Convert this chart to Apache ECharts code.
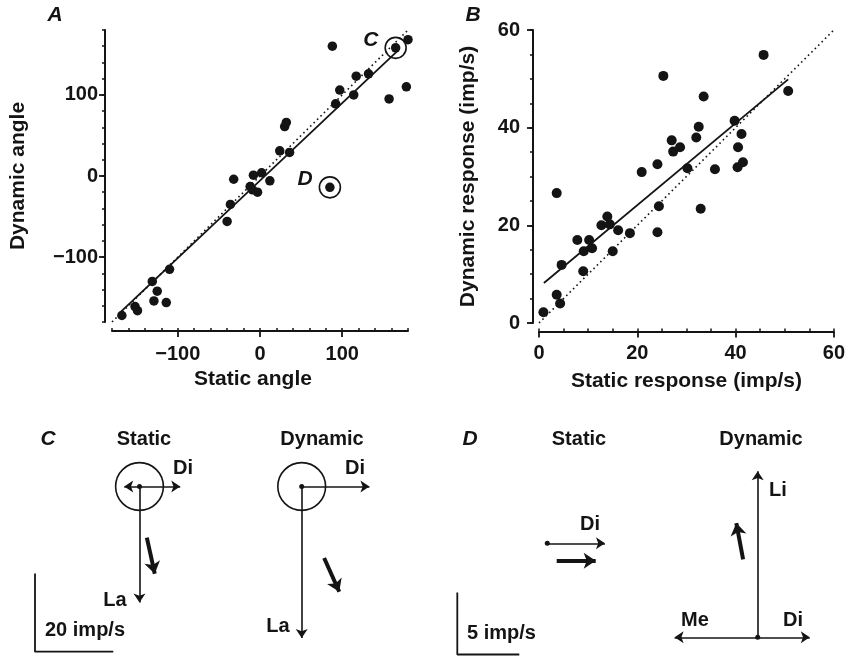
<!DOCTYPE html>
<html><head><meta charset="utf-8">
<script src="https://cdn.jsdelivr.net/npm/echarts@6/dist/echarts.min.js"></script>
<style>html,body{margin:0;padding:0;background:#fff}#c{width:848px;height:656px}</style>
</head><body><div id="c"></div>
<script>
// ---------- Panel A: preferred direction angles ----------
const staticAngle  = [-168,-152,-149,-131,-125,-129,-114,-110,-40,-36,-32,-12,-8,-9,-3,2,12,24,36,30,32,92,97,114,117,132,157,178,88,165,180,85];
const dynamicAngle = [-172,-161,-166,-130,-142,-154,-156,-115,-56,-35,-4,-13,1,-17,-20,4,-6,31,29,61,66,89,106,100,123,126,95,110,160,158,168,-14];
const fitAX = [-171, 167];
const fitAY = [-169, 154];
const identityA = [-180, 180];
const highlightedA = [[165,158],[85,-14]];
const highlightedALabels = ['C','D'];
const ticksA = [-100, 0, 100];

// ---------- Panel B: response magnitudes ----------
const staticResp  = [0.9,3.6,4.3,3.6,4.6,7.8,9.1,9.0,10.2,10.8,12.7,13.9,14.4,15.0,16.1,18.5,20.9,24.1,24.1,24.4,25.3,27.0,27.3,28.7,30.2,32.0,32.5,32.9,33.5,35.8,39.8,40.5,40.4,41.2,41.5,45.7,50.7];
const dynamicResp = [2.2,5.8,4.0,26.6,11.9,17.0,14.7,10.6,17.0,15.3,20.0,21.8,20.2,14.7,19.0,18.4,30.9,32.5,18.6,23.9,50.6,37.4,35.1,36.0,31.7,38.0,40.2,23.4,46.4,31.5,41.4,36.0,31.9,38.7,32.9,54.9,47.5];
const fitBX = [1, 50.7];
const fitBY = [8.2, 49.9];
const identityB = [0, 60];
const ticksB = [0, 20, 40, 60];

// ---------- Panels C, D: response vectors (imp/s) [label, dx, dy] ----------
const cStatic  = [['Di', 10.4, 0], ['', -3.9, 0], ['La', 0, -29.6]];
const cDynamic = [['Di', 17.3, 0], ['La', 0, -38.7]];
const dStatic  = [['Di', 4.65, 0]];
const dDynamic = [['Li', 0, 13.4], ['Di', 4.2, 0], ['Me', -6.7, 0]];
const cCircleRadius = 6.1;
const scaleBarC = 20;
const scaleBarD = 5;

// ---------- layout ----------
const FONT = 'Liberation Sans, Arial, sans-serif';
const INK = '#141414';
const sC = 78.3 / 20;   // px per imp/s in panel C
const sD = 62 / 5;      // px per imp/s in panel D
const gC = {left: 0, top: 440, width: 420, height: 216};
const gD = {left: 420, top: 440, width: 428, height: 216};
const toC = p => [(p[0] - gC.left) / sC, (gC.top + gC.height - p[1]) / sC];
const toD = p => [(p[0] - gD.left) / sD, (gD.top + gD.height - p[1]) / sD];

const minus = v => v < 0 ? '\u2212' + Math.abs(v) : String(v);
const txt = {fontFamily: FONT, fontSize: 20, fontWeight: 'bold', color: INK};

function axisPair(dim, grid, min, max, minorStep, majors, offset, name, nameGap, margin, namePad) {
  const isX = dim === 'x';
  const main = {
    type: 'value', gridIndex: grid, min, max, interval: minorStep,
    position: isX ? 'bottom' : 'left', offset,
    name, nameLocation: 'middle', nameGap,
    nameTextStyle: Object.assign({}, txt, {fontSize: 21, padding: namePad || 0}),
    axisLine: {show: true, onZero: false, lineStyle: {color: INK, width: 2}},
    axisTick: {show: true, inside: isX, length: 3, lineStyle: {color: INK, width: 1.5}},
    axisLabel: {show: false},
    splitLine: {show: false}
  };
  const major = {
    type: 'value', gridIndex: grid, min, max, interval: minorStep,
    position: isX ? 'bottom' : 'left', offset,
    axisLine: {show: false, onZero: false},
    axisTick: {show: true, inside: false, length: 6, customValues: majors, lineStyle: {color: INK, width: 1.8}},
    axisLabel: Object.assign({show: true, customValues: majors, margin, formatter: minus}, txt),
    splitLine: {show: false}
  };
  return [main, major];
}
function hiddenAxis(grid, max) {
  return {type: 'value', gridIndex: grid, min: 0, max, show: false, splitLine: {show: false}};
}

const xAxes = [
  ...axisPair('x', 0, -180, 180, 20, ticksA, 9, 'Static angle', 38, 13, [0, 14, 0, 0]),
  ...axisPair('x', 1, 0, 60, 5, ticksB, 8.5, 'Static response (imp/s)', 39, 12),
  hiddenAxis(2, gC.width / sC),
  hiddenAxis(3, gD.width / sD)
];
const yAxes = [
  ...axisPair('y', 0, -180, 180, 20, ticksA, 7, 'Dynamic angle', 76, 7),
  ...axisPair('y', 1, 0, 60, 5, ticksB, 6, 'Dynamic response (imp/s)', 54, 13),
  hiddenAxis(2, gC.height / sC),
  hiddenAxis(3, gD.height / sD)
];

const zip = (a, b) => a.map((v, i) => [v, b[i]]);

function vecLines(comps, originPx, toData) {
  const o = toData(originPx);
  return comps.map(c => ({coords: [o, [o[0] + c[1], o[1] + c[2]]]}));
}
function boldArrow(comps, centerPx, toData, s, L) {
  const rx = comps.reduce((a, c) => a + c[1], 0);
  const ry = comps.reduce((a, c) => a + c[2], 0);
  const n = Math.hypot(rx, ry), h = L / 2 / s;
  const c = toData(centerPx);
  return {coords: [[c[0] - rx / n * h, c[1] - ry / n * h], [c[0] + rx / n * h, c[1] + ry / n * h]]};
}
function scaleBar(cornerPx, toData, len) {
  const c = toData(cornerPx);
  return [[c[0], c[1] + len], c, [c[0] + len, c[1]]];
}

const originCS = [139.5, 486.5], originCD = [301.7, 486.5];
const originDS = [547.3, 543.3], originDD = [757.7, 637.3];

const thinArrow = {
  type: 'lines', coordinateSystem: 'cartesian2d', symbol: ['none', 'arrow'], symbolSize: [7, 9],
  lineStyle: {color: INK, width: 1.6, opacity: 1}, itemStyle: {color: INK}, silent: true
};
const thickArrow = Object.assign({}, thinArrow, {symbolSize: [11, 12], lineStyle: {color: INK, width: 4, opacity: 1}});

const series = [
  // Panel A
  {type: 'line', xAxisIndex: 0, yAxisIndex: 0, data: zip(identityA, identityA), showSymbol: false,
   lineStyle: {color: INK, width: 1.6, type: [1.6, 3.2]}, silent: true},
  {type: 'line', xAxisIndex: 0, yAxisIndex: 0, data: zip(fitAX, fitAY), showSymbol: false,
   lineStyle: {color: INK, width: 1.8}, silent: true},
  {type: 'scatter', xAxisIndex: 0, yAxisIndex: 0, data: zip(staticAngle, dynamicAngle),
   symbolSize: 9.5, itemStyle: {color: INK, opacity: 1}},
  {type: 'scatter', xAxisIndex: 0, yAxisIndex: 0, data: highlightedA, symbolSize: 21,
   itemStyle: {color: 'rgba(0,0,0,0)', borderColor: INK, borderWidth: 1.6, opacity: 1},
   label: {show: true, position: 'left', distance: 6, fontFamily: FONT, fontSize: 21, fontStyle: 'italic', fontWeight: 'bold', color: INK,
     formatter: p => highlightedALabels[p.dataIndex], offset: [0, -8]}},
  // Panel B
  {type: 'line', xAxisIndex: 2, yAxisIndex: 2, data: zip(identityB, identityB), showSymbol: false,
   lineStyle: {color: INK, width: 1.6, type: [1.6, 3.2]}, silent: true},
  {type: 'line', xAxisIndex: 2, yAxisIndex: 2, data: zip(fitBX, fitBY), showSymbol: false,
   lineStyle: {color: INK, width: 1.8}, silent: true},
  {type: 'scatter', xAxisIndex: 2, yAxisIndex: 2, data: zip(staticResp, dynamicResp),
   symbolSize: 10, itemStyle: {color: INK, opacity: 1}},
  // Panel C
  Object.assign({}, thinArrow, {xAxisIndex: 4, yAxisIndex: 4,
    data: [...vecLines(cStatic, originCS, toC), ...vecLines(cDynamic, originCD, toC)]}),
  Object.assign({}, thickArrow, {xAxisIndex: 4, yAxisIndex: 4,
    data: [boldArrow(cStatic, [150.8, 555.7], toC, sC, 37), boldArrow(cDynamic, [331.7, 574.9], toC, sC, 37)]}),
  {type: 'scatter', xAxisIndex: 4, yAxisIndex: 4, data: [toC(originCS), toC(originCD)],
   symbolSize: 2 * cCircleRadius * sC, itemStyle: {color: 'rgba(0,0,0,0)', borderColor: INK, borderWidth: 1.6, opacity: 1}, silent: true},
  {type: 'scatter', xAxisIndex: 4, yAxisIndex: 4, data: [toC(originCS), toC(originCD)],
   symbolSize: 5, itemStyle: {color: INK, opacity: 1}, silent: true},
  {type: 'line', xAxisIndex: 4, yAxisIndex: 4, data: scaleBar([35, 651.7], toC, scaleBarC), showSymbol: false,
   lineStyle: {color: INK, width: 1.8}, silent: true},
  // Panel D
  Object.assign({}, thinArrow, {xAxisIndex: 5, yAxisIndex: 5,
    data: [...vecLines(dStatic, originDS, toD), ...vecLines(dDynamic, originDD, toD)]}),
  Object.assign({}, thickArrow, {xAxisIndex: 5, yAxisIndex: 5,
    data: [boldArrow(dStatic, [576.2, 560.7], toD, sD, 39), boldArrow(dDynamic, [739.7, 541.3], toD, sD, 37)]}),
  {type: 'scatter', xAxisIndex: 5, yAxisIndex: 5, data: [toD(originDS), toD(originDD)],
   symbolSize: 5, itemStyle: {color: INK, opacity: 1}, silent: true},
  {type: 'line', xAxisIndex: 5, yAxisIndex: 5, data: scaleBar([457.3, 654.5], toD, scaleBarD), showSymbol: false,
   lineStyle: {color: INK, width: 1.8}, silent: true}
];

function T(text, x, y, opts) {
  return Object.assign({type: 'text', x, y, silent: true,
    style: Object.assign({text, fill: INK, font: 'bold 20px ' + FONT, align: 'center', verticalAlign: 'middle'}, opts || {})});
}
const ital = {font: 'italic bold 21px ' + FONT};
const graphic = [
  T('A', 55, 15, ital), T('B', 473, 15, ital),
  T('C', 48, 439, ital), T('Static', 144, 439), T('Dynamic', 322, 439),
  T(cStatic[0][0], 183, 468), T(cStatic[2][0], 115, 600), T(cDynamic[0][0], 355, 468), T(cDynamic[1][0], 278, 626),
  T(scaleBarC + ' imp/s', 45, 630, {align: 'left'}),
  T('D', 470, 439, ital), T('Static', 579, 439), T('Dynamic', 761, 439),
  T(dStatic[0][0], 590, 524), T(dDynamic[0][0], 778, 490), T(dDynamic[2][0], 695, 620), T(dDynamic[1][0], 793, 620),
  T(scaleBarD + ' imp/s', 467, 633, {align: 'left'})
];

const chart = echarts.init(document.getElementById('c'), null, {renderer: 'canvas'});
chart.setOption({
  animation: false,
  backgroundColor: '#fff',
  grid: [
    {left: 112, top: 30, width: 296, height: 292},
    {left: 539, top: 30, width: 295, height: 293},
    gC, gD
  ],
  xAxis: xAxes,
  yAxis: yAxes,
  series,
  graphic
});
</script></body></html>
